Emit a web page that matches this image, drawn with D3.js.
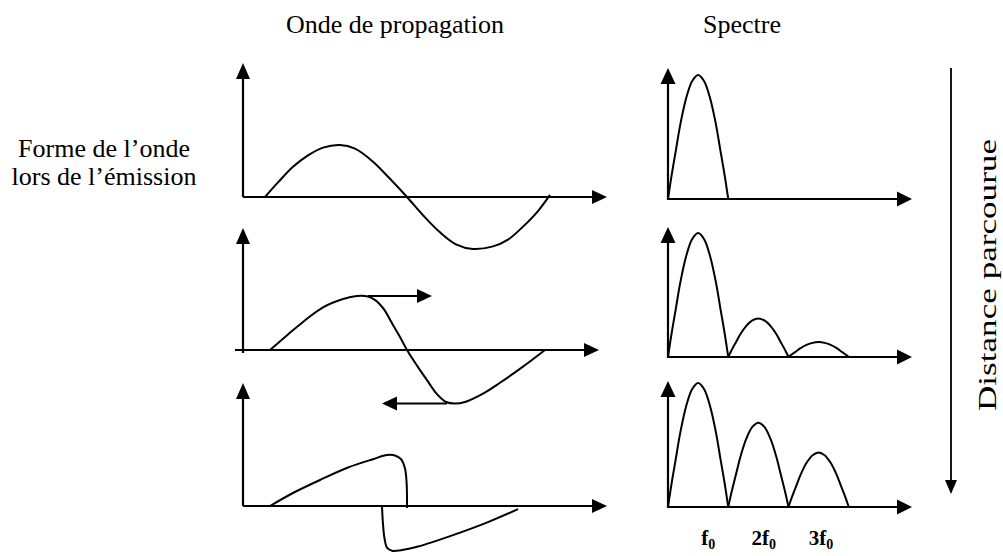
<!DOCTYPE html>
<html><head><meta charset="utf-8">
<script src="https://cdn.jsdelivr.net/npm/d3@7"></script>
<style>body{margin:0;background:#fff}svg{display:block}</style>
</head><body><svg id="c" width="1003" height="556"></svg>
<script>
// ---------- DATA ----------
const columnTitles = ["Onde de propagation", "Spectre"];
const rowLabel = ["Forme de l’onde", "lors de l’émission"];
const sideLabel = "Distance parcourue";

// waveforms: [time, amplitude]
const wave1 = [[22,0],[35,0.28],[50,0.58],[65,0.8],[80,0.95],[97,1.0],[112,0.93],[130,0.68],[147,0.35],[164,0],
  [180,-0.35],[197,-0.68],[213,-0.91],[230,-1.0],[250,-0.95],[265,-0.82],[280,-0.57],[295,-0.27],[307,0.04]];
const wave2 = [[27,0],[45,0.3],[60,0.54],[80,0.82],[100,0.98],[114,1.04],[125,1.03],[133,0.95],[141,0.78],[150,0.48],
  [157,0.25],[164,0],[174,-0.3],[184,-0.58],[194,-0.85],[203,-1.0],[212,-1.03],[222,-1.0],[240,-0.84],[257,-0.63],[280,-0.32],[302,0]];
const wave2Arrows = [{from:125, to:189, v:1.04}, {from:204, to:139, v:-1.03}];
const wave3Pos = [[27,0],[50,0.25],[77,0.5],[105,0.74],[130,0.9],[144,0.98],[152,0.97],[158,0.9],[162,0.72],[163.6,0.45],[164,0.15],[164,-0.04]];
const wave3Neg = [[139,0],[140,-0.35],[141.5,-0.62],[144,-0.8],[149,-0.86],[158,-0.85],[175,-0.78],[210,-0.56],[245,-0.31],[275,-0.06]];

// spectrum lobe profile [u, v] and lobe amplitudes per row
const lobeProfile = [[0,0],[0.04,0.13],[0.08,0.25],[0.13,0.39],[0.2,0.59],[0.3,0.81],[0.4,0.95],[0.5,1],
  [0.6,0.95],[0.7,0.81],[0.8,0.59],[0.87,0.39],[0.92,0.25],[0.96,0.13],[1,0]];
const spectrumAmps = [[1.0],[1.0,0.31,0.12],[1.0,0.68,0.44]];
const harmonicN = [1,2,3];
const harmonicPos = [0.67, 1.59, 2.54];

// ---------- LAYOUT ----------
const svg = d3.select("#c");
const font = "'Liberation Serif','Times New Roman',serif";
const leftRows = [{base:197, top:63, xStart:243, xEnd:607, yBottom:197},
                  {base:350, top:228, xStart:235, xEnd:599, yBottom:353},
                  {base:506, top:383, xStart:243, xEnd:607, yBottom:506}];
const rightRows = [{base:199, top:68}, {base:357, top:227}, {base:507, top:381}];
const xL = d3.scaleLinear().domain([0,364]).range([243,607]);
const xR = d3.scaleLinear().domain([0,4.05]).range([668,912]);
const yL = r => d3.scaleLinear().domain([-1,1]).range([r.base+52, r.base-52]);
const yR = r => d3.scaleLinear().domain([0,1]).range([r.base, r.base-124]);

const g = svg.append("g");
function arrowHead(tx, ty, dir, len=15, half=7.5) {
  let pts;
  if (dir==="up") pts=[[tx,ty],[tx-half,ty+len],[tx+half,ty+len]];
  if (dir==="down") pts=[[tx,ty],[tx-half,ty-len],[tx+half,ty-len]];
  if (dir==="right") pts=[[tx,ty],[tx-len,ty-half],[tx-len,ty+half]];
  if (dir==="left") pts=[[tx,ty],[tx+len,ty-half],[tx+len,ty+half]];
  g.append("polygon").attr("points", pts.map(p=>p.join(",")).join(" ")).attr("fill","#000");
}
function seg(x1,y1,x2,y2,w=2.2){ g.append("line").attr("x1",x1).attr("y1",y1).attr("x2",x2).attr("y2",y2).attr("stroke","#000").attr("stroke-width",w); }

// left axes
leftRows.forEach(r=>{
  seg(243, r.yBottom, 243, r.top+12);
  arrowHead(243, r.top, "up", 16, 7);
  seg(r.xStart, r.base, r.xEnd-12, r.base);
  arrowHead(r.xEnd, r.base, "right", 15, 7);
});
// right axes
rightRows.forEach(r=>{
  seg(668, r.base+1, 668, r.top+12);
  arrowHead(668, r.top, "up", 16, 7.5);
  seg(668, r.base, 900, r.base);
  arrowHead(912, r.base, "right", 15, 7.5);
});

const curve = d3.curveCatmullRom.alpha(0.5);
function drawWave(data, r) {
  const y = yL(r);
  g.append("path").datum(data).attr("fill","none").attr("stroke","#000").attr("stroke-width",2)
   .attr("d", d3.line().x(d=>xL(d[0])).y(d=>y(d[1])).curve(curve));
}
drawWave(wave1, leftRows[0]);
drawWave(wave2, leftRows[1]);
drawWave(wave3Pos, leftRows[2]);
drawWave(wave3Neg, leftRows[2]);
wave2Arrows.forEach(a=>{
  const y = yL(leftRows[1]);
  const dir = a.to > a.from ? 1 : -1;
  seg(xL(a.from), y(a.v), xL(a.to) - dir*12, y(a.v), 2);
  arrowHead(xL(a.to), y(a.v), dir>0?"right":"left", 15, 7);
});

// spectra
spectrumAmps.forEach((amps, i)=>{
  const r = rightRows[i], y = yR(r);
  amps.forEach((a, k)=>{
    g.append("path").datum(lobeProfile).attr("fill","none").attr("stroke","#000").attr("stroke-width",2)
     .attr("d", d3.line().x(d=>xR(k + d[0])).y(d=>y(a*d[1])).curve(d3.curveCatmullRom.alpha(0.5)));
  });
});

// harmonic labels
harmonicN.forEach((n,i)=>{
  const t = g.append("text").attr("x", xR(harmonicPos[i])).attr("y", 545).attr("text-anchor","middle")
    .attr("font-family", font).attr("font-weight","bold").attr("font-size", 21);
  t.append("tspan").text((n>1?n:"")+"f");
  t.append("tspan").attr("font-size",14).attr("dy",4).text("0");
});

// titles
g.append("text").attr("x", 395).attr("y", 33).attr("text-anchor","middle").attr("font-family",font)
  .attr("font-size",26).text(columnTitles[0]);
g.append("text").attr("x", 742).attr("y", 33).attr("text-anchor","middle").attr("font-family",font)
  .attr("font-size",26).text(columnTitles[1]);
rowLabel.forEach((s,i)=>{
  g.append("text").attr("x",104).attr("y",157+i*28).attr("text-anchor","middle").attr("font-family",font)
   .attr("font-size",26).text(s);
});

// distance arrow
seg(951, 68, 951, 484, 1.8);
arrowHead(951, 494, "down", 14, 6);
g.append("text").attr("transform","translate(996,275) rotate(-90)").attr("text-anchor","middle")
  .attr("font-family",font).attr("font-size",25).attr("textLength",272).attr("lengthAdjust","spacingAndGlyphs")
  .text(sideLabel);
</script></body></html>
